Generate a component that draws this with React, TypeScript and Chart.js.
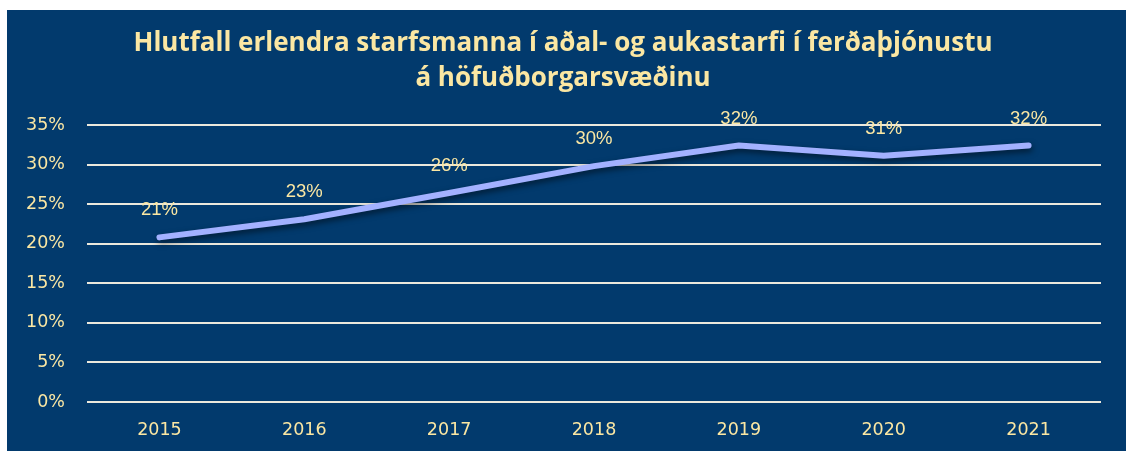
import React, { useEffect, useRef } from "react";
import { Chart, registerables } from "chart.js";

Chart.register(...registerables);

const titleLines = [
  "Hlutfall erlendra starfsmanna í aðal- og aukastarfi í ferðaþjónustu",
  "á höfuðborgarsvæðinu",
];
const years = ["2015", "2016", "2017", "2018", "2019", "2020", "2021"];
const shares = [20.8, 23.1, 26.4, 29.8, 32.4, 31.1, 32.4];
const yTicks = [0, 5, 10, 15, 20, 25, 30, 35];

const BG = "#023a6d";
const YELLOW = "#fbe7a3";
const LINE = "#a3b1ff";

const shadowPlugin = {
  id: "lineShadow",
  beforeDatasetDraw(chart: any) {
    const ctx = chart.ctx;
    ctx.save();
    ctx.shadowColor = "rgba(0,0,0,0.55)";
    ctx.shadowBlur = 6;
    ctx.shadowOffsetX = 1;
    ctx.shadowOffsetY = 3;
  },
  afterDatasetDraw(chart: any) {
    chart.ctx.restore();
  },
};

const labelPlugin = {
  id: "valueLabels",
  afterDatasetsDraw(chart: any) {
    const ctx = chart.ctx;
    const meta = chart.getDatasetMeta(0);
    const data = chart.data.datasets[0].data as number[];
    ctx.save();
    ctx.font = "18.5px 'Liberation Sans', Arial, sans-serif";
    ctx.fillStyle = YELLOW;
    ctx.textAlign = "center";
    ctx.textBaseline = "middle";
    meta.data.forEach((pt: any, i: number) => {
      ctx.fillText(`${Math.round(data[i])}%`, pt.x, pt.y - 27);
    });
    ctx.restore();
  },
};

export default function App() {
  const ref = useRef<HTMLCanvasElement>(null);
  useEffect(() => {
    document.body.style.margin = "0";
    const chart = new Chart(ref.current!, {
      type: "line",
      data: {
        labels: years,
        datasets: [
          {
            data: shares,
            borderColor: LINE,
            borderWidth: 6,
            borderCapStyle: "round",
            borderJoinStyle: "round",
            pointRadius: 0,
            tension: 0,
            fill: false,
          },
        ],
      },
      options: {
        animation: false,
        responsive: false,
        layout: { padding: { left: 18, right: 25, bottom: 0, top: 0 } },
        plugins: {
          legend: { display: false },
          tooltip: { enabled: false },
          title: {
            display: true,
            text: titleLines,
            color: YELLOW,
            font: { family: "'Open Sans', sans-serif", size: 26, weight: "bold", lineHeight: 1.35 },
            padding: { top: 16, bottom: 28.8 },
          },
        },
        scales: {
          x: {
            offset: true,
            grid: { display: false, drawTicks: false },
            border: { display: false },
            ticks: {
              color: YELLOW,
              font: { family: "'DejaVu Sans', sans-serif", size: 17.5 },
              padding: 18,
            },
            afterFit(axis: any) {
              axis.height = 49;
            },
          },
          y: {
            min: 0,
            max: 35,
            afterBuildTicks(axis: any) {
              axis.ticks = yTicks.map((v) => ({ value: v }));
            },
            grid: { color: "#ebe8dc", lineWidth: 2, drawTicks: false },
            border: { display: false },
            ticks: {
              color: YELLOW,
              font: { family: "'DejaVu Sans', sans-serif", size: 17.5 },
              padding: 22,
              callback: (v: any) => `${v}%`,
            },
            afterFit(axis: any) {
              axis.width = 62;
            },
          },
        },
      },
      plugins: [shadowPlugin, labelPlugin],
    });
    return () => chart.destroy();
  }, []);
  return (
    <div
      style={{
        position: "absolute",
        left: 7,
        top: 10,
        width: 1119,
        height: 441,
        background: BG,
      }}
    >
      <canvas ref={ref} width={1119} height={441} style={{ display: "block" }} />
    </div>
  );
}
